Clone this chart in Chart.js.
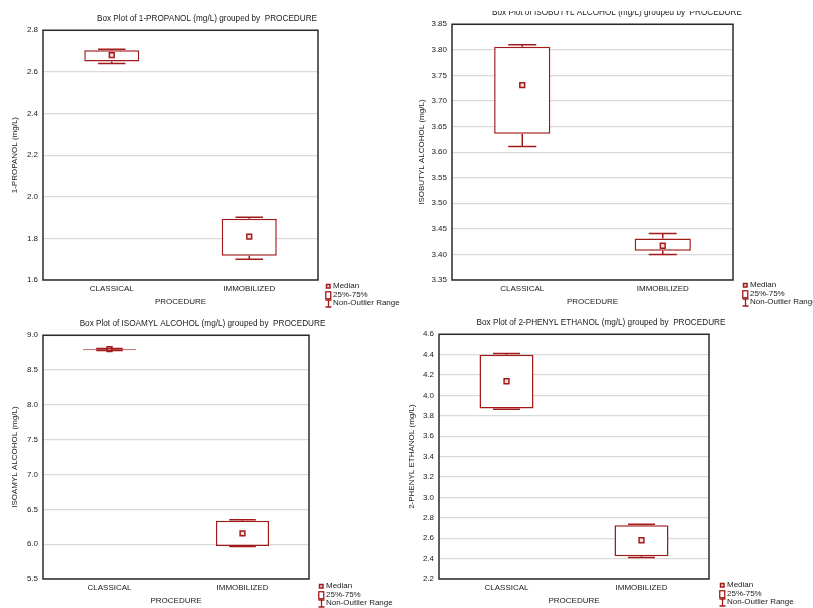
<!DOCTYPE html>
<html>
<head>
<meta charset="utf-8">
<script src="https://cdnjs.cloudflare.com/ajax/libs/Chart.js/4.4.1/chart.umd.js"></script>
<style>
html,body{margin:0;padding:0;background:#fff;overflow:hidden;width:813px;height:608px;}
.wrap{position:absolute;overflow:hidden;}
.wrap canvas{position:absolute;left:0;}
.lg{position:absolute;font:8px 'Liberation Sans',Arial,sans-serif;color:#1a1a1a;}
.lg div{position:relative;height:8.5px;line-height:8.5px;white-space:nowrap;padding-left:8px;}
.lg svg{position:absolute;left:0;top:0;}
</style>
</head>
<body>
<script>
// data
const categories=['CLASSICAL','IMMOBILIZED'];

const propanolMin=[2.64,1.70];
const propanolQ1=[2.65,1.717];
const propanolMed=[2.68,1.808];
const propanolQ3=[2.704,1.894];
const propanolMax=[2.709,1.901];
const propanolAxis=[1.6,2.8,0.2];

const isobutylMin=[3.611,3.400];
const isobutylQ1=[3.636,3.407];
const isobutylMed=[3.731,3.417];
const isobutylQ3=[3.806,3.431];
const isobutylMax=[3.81,3.441];
const isobutylAxis=[3.35,3.85,0.05];

const isoamylMin=[8.78,5.965];
const isoamylQ1=[8.785,5.975];
const isoamylMed=[8.80,6.155];
const isoamylQ3=[8.80,6.336];
const isoamylMax=[8.81,6.35];
const isoamylAxis=[5.5,9.0,0.5];

const phenylMin=[3.865,2.41];
const phenylQ1=[3.872,2.424];
const phenylMed=[4.139,2.58];
const phenylQ3=[4.40,2.727];
const phenylMax=[4.41,2.737];
const phenylAxis=[2.2,4.6,0.2];

const RED='#a31a1a';
const FONT="'Liberation Sans', Arial, sans-serif";

const panels=[
  {name:'1-PROPANOL',mn:propanolMin,q1:propanolQ1,md:propanolMed,q3:propanolQ3,mx:propanolMax,ax:propanolAxis,dec:1,
   left:0,top:0,w:414,h:310,clip:0,yW:43,padR:96,xH:30,tTop:14.2,tBot:6.2,yT:10.2,xT:3.2,lgL:325,lgT:282},
  {name:'ISOBUTYL ALCOHOL',mn:isobutylMin,q1:isobutylQ1,md:isobutylMed,q3:isobutylQ3,mx:isobutylMax,ax:isobutylAxis,dec:2,
   left:400,top:0,w:434,h:310,clip:11,yW:52,padR:101,xH:30,tTop:7.6,tBot:6.8,yT:17.2,xT:3.2,lgL:742,lgT:281},
  {name:'ISOAMYL ALCOHOL',mn:isoamylMin,q1:isoamylQ1,md:isoamylMed,q3:isoamylQ3,mx:isoamylMax,ax:isoamylAxis,dec:1,
   left:0,top:300,w:405,h:308,clip:0,yW:43,padR:96,xH:29,tTop:19.2,tBot:6.2,yT:10.2,xT:2.2,lgL:318,lgT:582},
  {name:'2-PHENYL ETHANOL',mn:phenylMin,q1:phenylQ1,md:phenylMed,q3:phenylQ3,mx:phenylMax,ax:phenylAxis,dec:1,
   left:400,top:300,w:402,h:308,clip:0,yW:39,padR:93,xH:29,tTop:18.2,tBot:6.2,yT:7.2,xT:2.2,lgL:719,lgT:581},
];

// whiskers + plot frame
const boxExtras={
  id:'boxExtras',
  afterDatasetsDraw(chart,args,opts){
    const ctx=chart.ctx,y=chart.scales.y,meta=chart.getDatasetMeta(0);
    const boxes=chart.data.datasets[0].data;
    ctx.save();
    ctx.strokeStyle=RED;ctx.lineWidth=1.5;
    meta.data.forEach((bar,i)=>{
      const x=bar.x,hw=bar.width/4;
      const pMin=y.getPixelForValue(opts.min[i]),pMax=y.getPixelForValue(opts.max[i]);
      const pLo=y.getPixelForValue(boxes[i][0]),pHi=y.getPixelForValue(boxes[i][1]);
      ctx.beginPath();
      ctx.moveTo(x,pLo);ctx.lineTo(x,pMin);
      ctx.moveTo(x-hw,pMin);ctx.lineTo(x+hw,pMin);
      ctx.moveTo(x,pHi);ctx.lineTo(x,pMax);
      ctx.moveTo(x-hw,pMax);ctx.lineTo(x+hw,pMax);
      ctx.stroke();
    });
    const a=chart.chartArea;
    ctx.strokeStyle='#2b2b2b';ctx.lineWidth=1.5;
    ctx.strokeRect(a.left,a.top,a.right-a.left,a.bottom-a.top);
    ctx.restore();
  }
};

function legendHtml(p){
  const d=document.createElement('div');
  d.className='lg';
  d.style.left=p.lgL+'px';d.style.top=p.lgT+'px';
  d.innerHTML=
    `<div><svg width="7" height="9"><rect x="1.5" y="2.5" width="3.5" height="3.5" fill="#f3dede" stroke="${RED}" stroke-width="1.5"/></svg>Median</div>`+
    `<div><svg width="7" height="9"><rect x="0.75" y="0.75" width="5" height="7" fill="#fff" stroke="${RED}" stroke-width="1.3"/></svg>25%-75%</div>`+
    `<div><svg width="7" height="9"><path d="M0.5 1H6.5M3.5 1V8M0.5 8H6.5" stroke="${RED}" stroke-width="1.3" fill="none"/></svg>Non-Outlier Range</div>`;
  document.body.appendChild(d);
}

panels.forEach(p=>{
  const wrap=document.createElement('div');
  wrap.className='wrap';
  wrap.style.left=p.left+'px';wrap.style.top=(p.top+p.clip)+'px';
  wrap.style.width=p.w+'px';wrap.style.height=(p.h-p.clip)+'px';
  const cv=document.createElement('canvas');
  cv.width=p.w;cv.height=p.h;
  cv.style.width=p.w+'px';cv.style.height=p.h+'px';cv.style.top=(-p.clip)+'px';
  wrap.appendChild(cv);document.body.appendChild(wrap);

  new Chart(cv,{
    type:'bar',
    data:{labels:categories,datasets:[
      {type:'bar',data:p.q1.map((v,i)=>[v,p.q3[i]]),backgroundColor:'#ffffff',borderColor:RED,borderWidth:1.5,
       borderSkipped:false,barPercentage:0.4,categoryPercentage:1.0,order:2},
      {type:'line',data:p.md,showLine:false,pointStyle:'rect',pointRadius:3.4,pointBackgroundColor:'#f3dede',
       pointBorderColor:RED,pointBorderWidth:1.5,order:1},
    ]},
    plugins:[boxExtras],
    options:{
      responsive:false,animation:false,
      layout:{padding:0},
      plugins:{
        legend:{display:false},tooltip:{enabled:false},
        title:{display:true,text:`Box Plot of ${p.name} (mg/L) grouped by  PROCEDURE`,color:'#1a1a1a',
               font:{family:FONT,size:8.2,weight:'normal'},padding:{top:p.tTop,bottom:p.tBot}},
        boxExtras:{min:p.mn,max:p.mx},
      },
      scales:{
        x:{
          grid:{display:false,drawTicks:false},border:{display:false},
          ticks:{color:'#1a1a1a',font:{family:FONT,size:8},padding:4},
          title:{display:true,text:'PROCEDURE',color:'#1a1a1a',font:{family:FONT,size:8},padding:{top:0,bottom:p.xT}},
          afterFit(axis){axis.height=p.xH;}
        },
        y:{
          min:p.ax[0],max:p.ax[1],
          grid:{color:'#dadada',lineWidth:1.2,drawTicks:false},border:{display:false},
          ticks:{stepSize:p.ax[2],color:'#1a1a1a',font:{family:FONT,size:8},padding:5,
                 callback:v=>Number(v).toFixed(p.dec)},
          title:{display:true,text:`${p.name} (mg/L)`,color:'#1a1a1a',font:{family:FONT,size:8},padding:{top:p.yT,bottom:0}},
          afterFit(axis){axis.width=p.yW;}
        },
        // empty right-hand strip that holds the legend area
        side:{
          type:'linear',position:'right',
          grid:{display:false,drawTicks:false},border:{display:false},ticks:{display:false},
          afterFit(axis){axis.width=p.padR;}
        }
      }
    }
  });
  legendHtml(p);
});
</script>
</body>
</html>
